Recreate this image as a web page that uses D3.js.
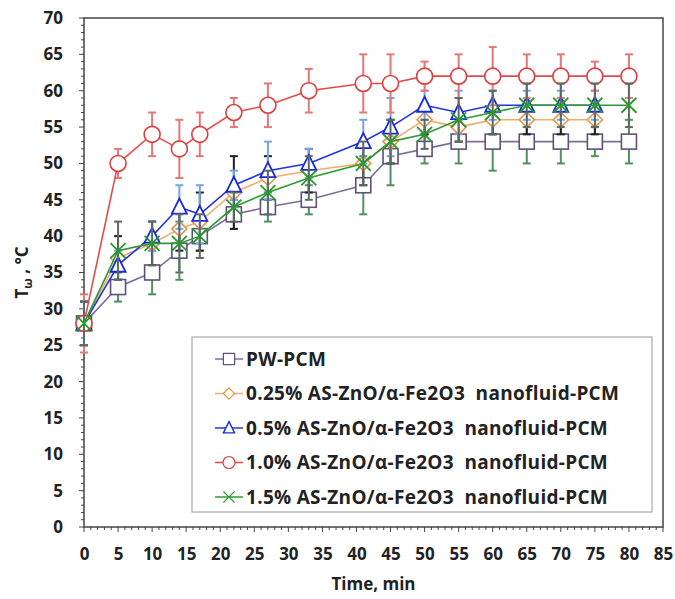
<!DOCTYPE html>
<html>
<head>
<meta charset="utf-8">
<script src="https://cdn.jsdelivr.net/npm/d3@7"></script>
<style>
  body { margin: 0; background: #fff; }
  text { font-family: "Open Sans", "Noto Sans", sans-serif; font-weight: 700; fill: #222; }
</style>
</head>
<body>
<div id="chart"></div>
<script>
// time points (min)
const times = [0, 5, 10, 14, 17, 22, 27, 33, 41, 45, 50, 55, 60, 65, 70, 75, 80];

// temperatures
const pwValues = [28, 33, 35, 38, 40, 43, 44, 45, 47, 51, 52, 53, 53, 53, 53, 53, 53];
const pwErr = [3, 2, 3, 4, 2, 2, 2, 2, 4, 4, 2, 3, 4, 3, 3, 2, 3];
const v025Values = [28, 37, 39, 41, 42, 46, 48, 49, 50, 53, 56, 55, 56, 56, 56, 56];
const v025Err = [3, 3, 3, 3, 4, 5, 3, 3, 3, 3, 2, 2, 2, 2, 2, 2];
const v05Values = [28, 36, 40, 44, 43, 47, 49, 50, 53, 55, 58, 57, 58, 58, 58, 58];
const v05Err = [3, 2, 2, 3, 4, 2, 4, 2, 3, 4, 2, 3, 2, 2, 2, 2];
const v10Values = [28, 50, 54, 52, 54, 57, 58, 60, 61, 61, 62, 62, 62, 62, 62, 62, 62];
const v10Err = [4, 2, 3, 4, 3, 2, 3, 3, 4, 4, 2, 3, 4, 3, 3, 2, 3];
const v15Values = [28, 38, 39, 39, 40, 44, 46, 48, 50, 53, 54, 56, 57, 58, 58, 58, 58];
const v15Err = [3, 4, 3, 4, 3, 2, 3, 3, 3, 3, 2, 3, 3, 3, 3, 3, 3];

const seriesNames = [
  "PW-PCM",
  "0.25% AS-ZnO/\u03b1-Fe2O3  nanofluid-PCM",
  "0.5% AS-ZnO/\u03b1-Fe2O3  nanofluid-PCM",
  "1.0% AS-ZnO/\u03b1-Fe2O3  nanofluid-PCM",
  "1.5% AS-ZnO/\u03b1-Fe2O3  nanofluid-PCM"
];
const xTicks = d3.range(0, 86, 5);
const yTicks = d3.range(0, 71, 5);

const series = [
  { name: seriesNames[0], values: pwValues, err: pwErr, line: "#7d6f98", stroke: "#5e5078", errColor: "#4f9160", shape: "square" },
  { name: seriesNames[1], values: v025Values, err: v025Err, line: "#f2ab68", stroke: "#e39445", errColor: "#222", shape: "diamond" },
  { name: seriesNames[2], values: v05Values, err: v05Err, line: "#2233dd", stroke: "#1a2ad8", errColor: "#76a3e6", shape: "triangle" },
  { name: seriesNames[3], values: v10Values, err: v10Err, line: "#e34a4a", stroke: "#e03c3c", errColor: "#e47777", shape: "circle" },
  { name: seriesNames[4], values: v15Values, err: v15Err, line: "#2e9a33", stroke: "#279a2c", errColor: "#5b6b63", shape: "cross" }
];

const width = 675, height = 599;
const svg = d3.select("#chart").append("svg")
  .attr("width", width)
  .attr("height", height);

const x = d3.scaleLinear().domain([0, 85]).range([84, 663]);
const y = d3.scaleLinear().domain([0, 70]).range([527, 18]);

// frame
svg.append("rect")
  .attr("x", x(0)).attr("y", y(70))
  .attr("width", x(85) - x(0)).attr("height", y(0) - y(70))
  .attr("fill", "none").attr("stroke", "#444").attr("stroke-width", 1.5);

// minor ticks
svg.append("g").selectAll("line")
  .data(d3.range(0, 86, 1))
  .join("line")
  .attr("x1", d => x(d)).attr("x2", d => x(d))
  .attr("y1", y(0)).attr("y2", d => y(0) + (d % 5 === 0 ? 5 : 3))
  .attr("stroke", "#444").attr("stroke-width", 1);
svg.append("g").selectAll("line")
  .data(d3.range(0, 71, 1))
  .join("line")
  .attr("y1", d => y(d)).attr("y2", d => y(d))
  .attr("x1", x(0)).attr("x2", d => x(0) - (d % 5 === 0 ? 5 : 3))
  .attr("stroke", "#444").attr("stroke-width", 1);

// axes labels
const xAxis = d3.axisBottom(x).tickValues(xTicks).tickSize(0).tickPadding(21);
svg.append("g")
  .attr("transform", `translate(0,${y(0)})`)
  .call(xAxis)
  .call(g => g.select(".domain").remove())
  .call(g => g.selectAll("text").attr("font-size", 17).style("font-family", "'Open Sans', sans-serif").attr("fill", "#222"));

const yAxis = d3.axisLeft(y).tickValues(yTicks).tickSize(0).tickPadding(21);
svg.append("g")
  .attr("transform", `translate(${x(0)},0)`)
  .call(yAxis)
  .call(g => g.select(".domain").remove())
  .call(g => g.selectAll("text").attr("font-size", 17).style("font-family", "'Open Sans', sans-serif").attr("fill", "#222"));

svg.append("text")
  .attr("x", (x(0) + x(85)) / 2).attr("y", 590)
  .attr("text-anchor", "middle").attr("font-size", 17)
  .text("Time, min");

const yl = svg.append("text")
  .attr("transform", `translate(28,${y(35)}) rotate(-90)`)
  .attr("text-anchor", "middle").attr("font-size", 17);
yl.append("tspan").text("T");
yl.append("tspan").attr("dy", 4).attr("font-size", 12).text("\u03c9");
yl.append("tspan").attr("dy", -4).text(" , \u00b0C");

// marker drawing
function marker(g, shape, stroke) {
  const s = 7.5;
  if (shape === "square") {
    g.append("rect").attr("x", -s).attr("y", -s).attr("width", 2 * s).attr("height", 2 * s)
      .attr("fill", "#fff").attr("stroke", stroke).attr("stroke-width", 1.6);
  } else if (shape === "diamond") {
    g.append("path").attr("d", `M0,${-s}L${s},0L0,${s}L${-s},0Z`)
      .attr("fill", "#fff").attr("stroke", stroke).attr("stroke-width", 1.6);
  } else if (shape === "triangle") {
    g.append("path").attr("d", `M0,${-s - 1}L${s},${s - 1}L${-s},${s - 1}Z`)
      .attr("fill", "#fff").attr("stroke", stroke).attr("stroke-width", 1.8);
  } else if (shape === "circle") {
    g.append("circle").attr("r", s + 0.5)
      .attr("fill", "#fff").attr("stroke", stroke).attr("stroke-width", 1.6);
  } else {
    g.append("path").attr("d", `M${-s},${-s}L${s},${s}M${-s},${s}L${s},${-s}`)
      .attr("fill", "none").attr("stroke", stroke).attr("stroke-width", 1.8);
  }
}

const line = d3.line().x(d => x(d.t)).y(d => y(d.v));

series.forEach(s => {
  const pts = s.values.map((v, i) => ({ t: times[i], v: v, e: s.err[i] }));
  const g = svg.append("g");
  // error bars
  const eb = g.append("g").attr("stroke", s.errColor).attr("stroke-width", 2);
  pts.forEach(p => {
    eb.append("line").attr("x1", x(p.t)).attr("x2", x(p.t)).attr("y1", y(p.v - p.e)).attr("y2", y(p.v + p.e));
    eb.append("line").attr("x1", x(p.t) - 4).attr("x2", x(p.t) + 4).attr("y1", y(p.v - p.e)).attr("y2", y(p.v - p.e));
    eb.append("line").attr("x1", x(p.t) - 4).attr("x2", x(p.t) + 4).attr("y1", y(p.v + p.e)).attr("y2", y(p.v + p.e));
  });
  g.append("path").datum(pts)
    .attr("d", line).attr("fill", "none")
    .attr("stroke", s.line).attr("stroke-width", 1.6);
  pts.forEach(p => {
    marker(g.append("g").attr("transform", `translate(${x(p.t)},${y(p.v)})`), s.shape, s.stroke);
  });
});

// legend
const lg = svg.append("g");
lg.append("rect")
  .attr("x", 192).attr("y", 337).attr("width", 460).attr("height", 175)
  .attr("fill", "#fff").attr("stroke", "#aaa").attr("stroke-width", 1.2);
series.forEach((s, i) => {
  const ly = 359 + i * 34.5;
  lg.append("line").attr("x1", 215).attr("x2", 243).attr("y1", ly).attr("y2", ly)
    .attr("stroke", s.line).attr("stroke-width", 1.5);
  const mg = lg.append("g").attr("transform", `translate(229,${ly}) scale(0.75)`);
  marker(mg, s.shape, s.stroke);
  lg.append("text").attr("x", 246).attr("y", ly + 6.5)
    .attr("font-size", 19).attr("letter-spacing", 0.3)
    .style("white-space", "pre")
    .text(s.name);
});
</script>
</body>
</html>
